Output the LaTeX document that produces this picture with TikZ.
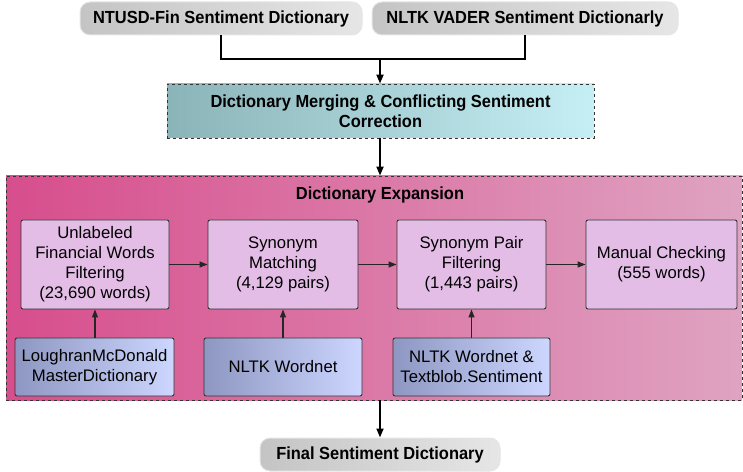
\documentclass[tikz,border=0pt]{standalone}
\usepackage{fontspec}
\setmainfont{Liberation Sans}
\newfontfamily\titlefont[FakeStretch=0.94]{Liberation Sans Bold}
\usetikzlibrary{arrows.meta}
\definecolor{grayL}{HTML}{C4C4C4}
\definecolor{grayR}{HTML}{E6E6E6}
\definecolor{tealL}{HTML}{8AB4B8}
\definecolor{tealR}{HTML}{C6EFF5}
\definecolor{pinkL}{HTML}{D74E8D}
\definecolor{pinkR}{HTML}{DFA3C1}
\definecolor{lilac}{HTML}{E3BDE6}
\definecolor{blueL}{HTML}{8E97C1}
\definecolor{blueR}{HTML}{CCD6FF}
\definecolor{edge}{HTML}{333333}
\tikzset{
  pill/.style={rounded corners=10pt, left color=grayL, right color=grayR, draw=gray!20, line width=1pt,
    inner sep=0pt, minimum height=33pt, font=\titlefont\fontsize{17.5}{20}\selectfont},
  mergebox/.style={left color=tealL, right color=tealR, draw=edge, dashed, line width=0.8pt,
    inner sep=0pt, minimum width=427pt, minimum height=54pt, align=center,
    font=\titlefont\fontsize{17.5}{20}\selectfont},
  procbox/.style={fill=lilac, draw=edge, line width=0.9pt, rounded corners=2pt, inner sep=0pt,
    minimum height=89pt, align=center, font=\fontsize{16.7}{20}\selectfont},
  srcbox/.style={left color=blueL, right color=blueR, draw=edge, line width=0.9pt, rounded corners=2pt,
    inner sep=0pt, minimum height=58pt, align=center, font=\fontsize{16.7}{20}\selectfont},
  conn/.style={line width=1.8pt, -{Triangle[length=9pt,width=7pt]}},
  plain/.style={line width=1.8pt},
  flow/.style={line width=1.2pt, draw=black!85, -{Triangle[length=8pt,width=6pt]}},
}
\begin{document}
\begin{tikzpicture}[x=1pt,y=1pt]
\useasboundingbox (0,0) rectangle (743,471);
% container
\node[left color=pinkL, right color=pinkR, draw=edge, dashed, line width=0.8pt, inner sep=0pt,
  minimum width=736pt, minimum height=224pt] (cont) at (374,183) {};
\node[font=\titlefont\fontsize{17.5}{20}\selectfont] (ctitle) at (380,276) {Dictionary Expansion};
% top
\node[pill, minimum width=282pt] (ntusd) at (221,452.5) {NTUSD-Fin Sentiment Dictionary};
\node[pill, minimum width=306pt] (vader) at (525,452.5) {NLTK VADER Sentiment Dictionarly};
\node[mergebox] (merge) at (380.5,360) {Dictionary Merging \& Conflicting Sentiment\\Correction};
\coordinate (join) at (380,412);
\draw[plain] (ntusd.south) |- (join);
\draw[plain] (vader.south) |- (join);
\draw[conn] (join) -- (join |- merge.north);
\draw[conn] (merge.south -| join) -- (join |- cont.north);
% process boxes
\node[procbox, minimum width=148pt] (p1) at (95,206.5) {Unlabeled\\Financial Words\\Filtering\\(23,690 words)};
\node[procbox, minimum width=150pt] (p2) at (283,206.5) {Synonym\\Matching\\(4,129 pairs)};
\node[procbox, minimum width=149pt] (p3) at (471.5,206.5) {Synonym Pair\\Filtering\\(1,443 pairs)};
\node[procbox, minimum width=151pt] (p4) at (661.5,206.5) {Manual Checking\\(555 words)};
% sources
\node[srcbox, minimum width=159pt] (s1) at (94.5,104) {LoughranMcDonald\\MasterDictionary};
\node[srcbox, minimum width=158pt] (s2) at (283,104) {NLTK Wordnet};
\node[srcbox, minimum width=157pt] (s3) at (471.5,104) {NLTK Wordnet \&\\Textblob.Sentiment};
\draw[flow] (p1.east) -- (p2.west);
\draw[flow] (p2.east) -- (p3.west);
\draw[flow] (p3.east) -- (p4.west);
\draw[flow] (s1.north -| p1.south) -- (p1.south);
\draw[flow] (s2.north -| p2.south) -- (p2.south);
\draw[flow] (s3.north -| p3.south) -- (p3.south);
% final
\node[pill, minimum width=240pt] (final) at (380,16.5) {Final Sentiment Dictionary};
\draw[conn] (join |- cont.south) -- (final.north);
\end{tikzpicture}
\end{document}
